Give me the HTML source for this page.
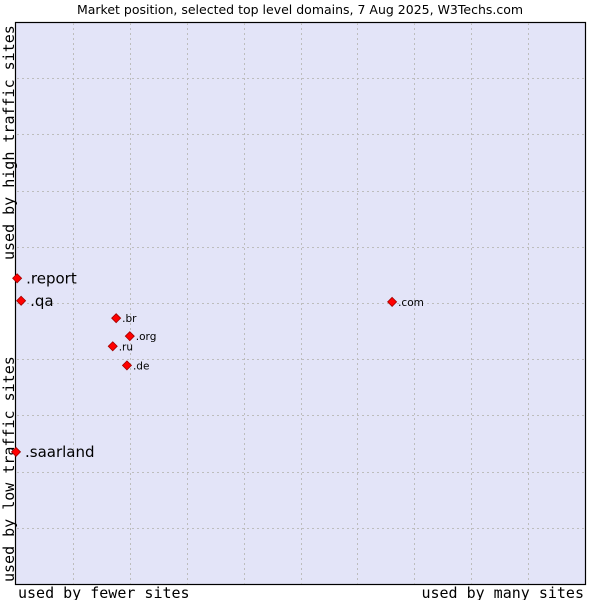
<!DOCTYPE html>
<html><head><meta charset="utf-8"><style>
body{margin:0;background:#fff;}
svg text{font-family:"DejaVu Sans","Liberation Sans",sans-serif;}
.mono{font-family:"DejaVu Sans Mono","Liberation Mono",monospace;}
</style></head><body>
<svg width="600" height="600" xmlns="http://www.w3.org/2000/svg">
<text x="300" y="14" text-anchor="middle" font-size="12.5" fill="#000">Market position, selected top level domains, 7 Aug 2025, W3Techs.com</text>
<rect x="15.5" y="22.5" width="570" height="562" fill="#e3e4f8" stroke="#000" stroke-width="1.2"/>
<g id="grid"></g>
<text class="mono" x="18" y="598" font-size="15">used by fewer sites</text>
<text class="mono" x="584" y="598" font-size="15" text-anchor="end">used by many sites</text>
<text class="mono" transform="translate(14,260) rotate(-90)" font-size="15">used by high traffic sites</text>
<text class="mono" transform="translate(14,582) rotate(-90)" font-size="15">used by low traffic sites</text>
<g id="points"></g>
</svg>
<script>
const labels=[".report",".qa",".saarland",".com",".br",".org",".ru",".de"];
const xValues=[0.2,0.9,0,66.1,17.6,20.0,17.0,19.5];
const yValues=[54.4,50.4,23.5,50.2,47.3,44.1,42.3,38.9];
const highlighted=[true,true,true,false,false,false,false,false];
const L=16,T=22,W=569,H=562;
const sx=v=>L+v/100*W, sy=v=>T+H-v/100*H;
const NS="http://www.w3.org/2000/svg";
const grid=document.getElementById('grid');
for(let i=1;i<10;i++){
  const gx=document.createElementNS(NS,'line');
  
  
  const x=Math.round(L+i*W/10)+0.5;
  gx.setAttribute('x1',x);gx.setAttribute('x2',x);gx.setAttribute('y1',T+1);gx.setAttribute('y2',T+H);
  gx.setAttribute('stroke','#bdbdbd');gx.setAttribute('stroke-dasharray','2,3');
  grid.appendChild(gx);
  const gy=document.createElementNS(NS,'line');
  
  
  const y=Math.round(T+i*H/10)+0.5;
  gy.setAttribute('y1',y);gy.setAttribute('y2',y);gy.setAttribute('x1',L+1);gy.setAttribute('x2',L+W);
  gy.setAttribute('stroke','#bdbdbd');gy.setAttribute('stroke-dasharray','2,3');
  grid.appendChild(gy);
}
const pts=document.getElementById('points');
labels.forEach((lab,i)=>{
  const x=sx(xValues[i]),y=sy(yValues[i]);
  const d=document.createElementNS(NS,'polygon');
  
  
  d.setAttribute('points',`${x},${y-4.5} ${x+4.5},${y} ${x},${y+4.5} ${x-4.5},${y}`);
  d.setAttribute('fill','#ff0000');d.setAttribute('stroke','#a00000');d.setAttribute('stroke-width','0.8');
  pts.appendChild(d);
  const t=document.createElementNS(NS,'text');
  
  
  const big=highlighted[i];
  t.setAttribute('x',x+(big?9:6));t.setAttribute('y',y+(big?5:4));
  t.setAttribute('font-size',big?15:10.5);
  t.textContent=lab;
  pts.appendChild(t);
});
</script>
</body></html>
